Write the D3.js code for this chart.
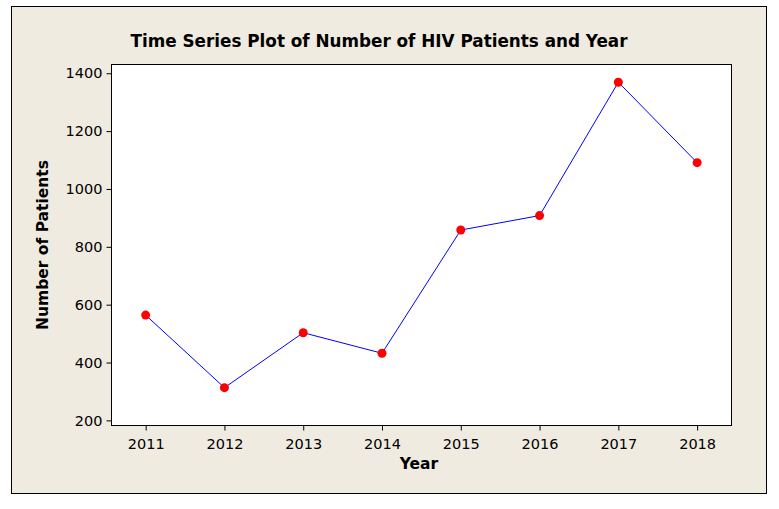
<!DOCTYPE html>
<html>
<head>
<meta charset="utf-8">
<script src="https://cdn.jsdelivr.net/npm/d3@7"></script>
<style>
  body { margin: 0; background: #fff; }
  svg { display: block; }
  text { font-family: Tahoma, "DejaVu Sans", sans-serif; }
</style>
</head>
<body>
<svg id="chart" width="779" height="509"></svg>
<script>
// Data
const years = [2011, 2012, 2013, 2014, 2015, 2016, 2017, 2018];
const patients = [564, 313, 503, 432, 858, 908, 1369, 1091];
const yTicks = [200, 400, 600, 800, 1000, 1200, 1400];

const svg = d3.select("#chart");

// Outer frame
svg.append("rect")
  .attr("x", 11.5).attr("y", 6.5)
  .attr("width", 755).attr("height", 487)
  .attr("fill", "#efebe1")
  .attr("stroke", "#000")
  .attr("stroke-width", 1);

const plot = { left: 111, top: 64, right: 731, bottom: 425 };

const x = d3.scaleLinear()
  .domain([2010.56, 2018.43])
  .range([plot.left, plot.right]);

const y = d3.scaleLinear()
  .domain([184, 1432])
  .range([plot.bottom, plot.top]);

// Plot area
svg.append("rect")
  .attr("x", plot.left + 0.5).attr("y", plot.top + 0.5)
  .attr("width", plot.right - plot.left).attr("height", plot.bottom - plot.top)
  .attr("fill", "#fff")
  .attr("stroke", "#000")
  .attr("stroke-width", 1);

// Axes
const xAxis = svg.append("g")
  .attr("transform", `translate(0,${plot.bottom + 0.5})`)
  .call(d3.axisBottom(x).tickValues(years).tickFormat(d3.format("d")).tickSize(5).tickSizeOuter(0));

const yAxis = svg.append("g")
  .attr("transform", `translate(${plot.left + 0.5},0)`)
  .call(d3.axisLeft(y).tickValues(yTicks).tickFormat(d3.format("d")).tickSize(5).tickSizeOuter(0));

[xAxis, yAxis].forEach(g => {
  g.select(".domain").remove();
  g.selectAll("line").attr("stroke", "#000");
  g.selectAll("text")
    .attr("fill", "#000")
    .attr("font-size", "14.5px")
    .style("font-family", 'Tahoma, "DejaVu Sans", sans-serif');
});
xAxis.selectAll("text").attr("dy", "1.1em");
yAxis.selectAll("text").attr("x", -9);

// Series line
const line = d3.line()
  .x((d, i) => x(years[i]))
  .y(d => y(d));

svg.append("path")
  .datum(patients)
  .attr("d", line)
  .attr("fill", "none")
  .attr("stroke", "#0000ff")
  .attr("stroke-width", 1);

// Points
svg.selectAll("circle.pt")
  .data(patients)
  .enter().append("circle")
  .attr("class", "pt")
  .attr("cx", (d, i) => x(years[i]))
  .attr("cy", d => y(d))
  .attr("r", 4.5)
  .attr("fill", "#ff0000");

// Title
svg.append("text")
  .attr("x", 379).attr("y", 47)
  .attr("text-anchor", "middle")
  .attr("font-size", "18px")
  .attr("font-weight", "bold")
  .attr("textLength", 497)
  .attr("lengthAdjust", "spacingAndGlyphs")
  .text("Time Series Plot of Number of HIV Patients and Year");

// Axis titles
svg.append("text")
  .attr("x", 419).attr("y", 469)
  .attr("text-anchor", "middle")
  .attr("font-size", "15.5px")
  .attr("font-weight", "bold")
  .text("Year");

svg.append("text")
  .attr("transform", "translate(48,245) rotate(-90)")
  .attr("text-anchor", "middle")
  .attr("font-size", "15.5px")
  .attr("font-weight", "bold")
  .text("Number of Patients");
</script>
</body>
</html>
